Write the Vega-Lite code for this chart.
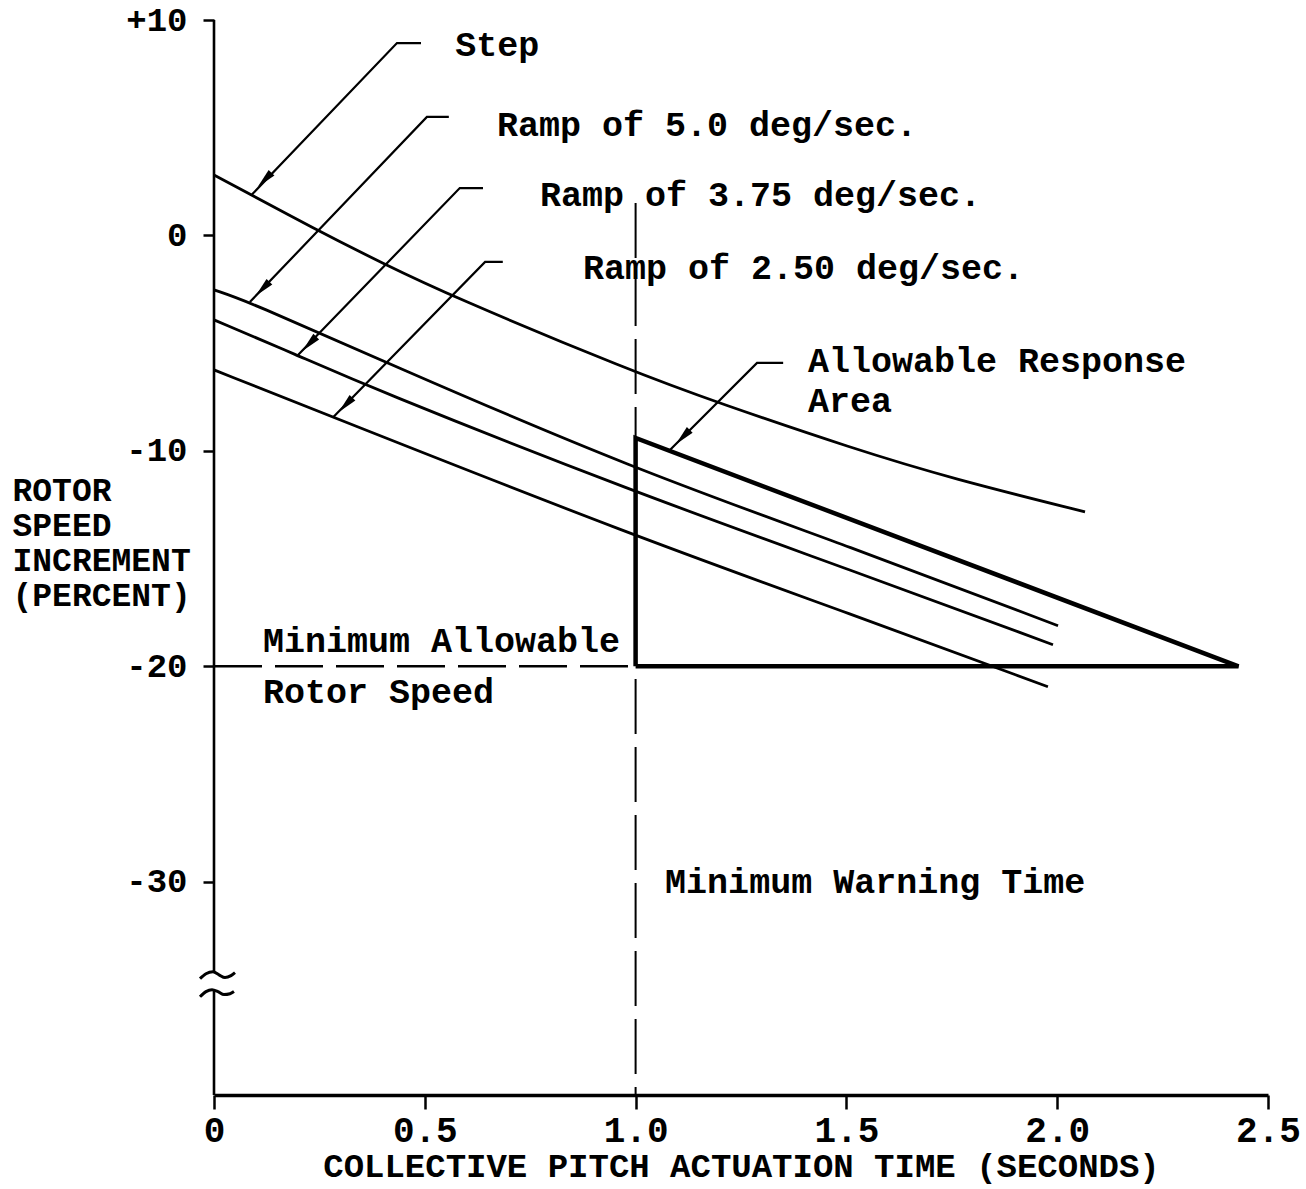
{
  "$schema": "https://vega.github.io/schema/vega-lite/v6.json",
  "width": 1054,
  "height": 1075,
  "autosize": {"type": "none"},
  "padding": {"left": 214, "top": 20, "right": 38, "bottom": 94},
  "background": "white",
  "config": {
    "view": {"stroke": null},
    "font": "Liberation Mono",
    "text": {"font": "Liberation Mono", "fontWeight": "bold", "color": "black"}
  },
  "datasets": {
    "curves": [
      {"series": "Step", "t": 0, "v": 2.81},
      {"series": "Step", "t": 0.247, "v": 0.21},
      {"series": "Step", "t": 0.401, "v": -1.3},
      {"series": "Step", "t": 0.555, "v": -2.75},
      {"series": "Step", "t": 0.994, "v": -6.33},
      {"series": "Step", "t": 1.193, "v": -7.75},
      {"series": "Step", "t": 1.516, "v": -9.9},
      {"series": "Step", "t": 1.753, "v": -11.3},
      {"series": "Step", "t": 2.066, "v": -12.83},
      {"series": "Ramp 5.0", "t": 0, "v": -2.53},
      {"series": "Ramp 5.0", "t": 0.085, "v": -3.09},
      {"series": "Ramp 5.0", "t": 0.41, "v": -5.92},
      {"series": "Ramp 5.0", "t": 0.994, "v": -10.84},
      {"series": "Ramp 5.0", "t": 1.516, "v": -14.5},
      {"series": "Ramp 5.0", "t": 2.002, "v": -18.12},
      {"series": "Ramp 3.75", "t": 0, "v": -3.92},
      {"series": "Ramp 3.75", "t": 0.197, "v": -5.55},
      {"series": "Ramp 3.75", "t": 0.363, "v": -7.0},
      {"series": "Ramp 3.75", "t": 0.994, "v": -11.9},
      {"series": "Ramp 3.75", "t": 1.516, "v": -15.57},
      {"series": "Ramp 3.75", "t": 1.99, "v": -19.0},
      {"series": "Ramp 2.50", "t": 0, "v": -6.24},
      {"series": "Ramp 2.50", "t": 0.28, "v": -8.42},
      {"series": "Ramp 2.50", "t": 0.994, "v": -13.94},
      {"series": "Ramp 2.50", "t": 1.516, "v": -17.61},
      {"series": "Ramp 2.50", "t": 1.978, "v": -20.95}
    ],
    "triangle": [
      {"o": 1, "t": 1.0, "v": -20},
      {"o": 2, "t": 1.0, "v": -9.4},
      {"o": 3, "t": 2.43, "v": -20},
      {"o": 4, "t": 1.0, "v": -20}
    ],
    "leaders": [
      {"id": "Step", "o": 1, "t": 0.09, "v": 1.9},
      {"id": "Step", "o": 2, "t": 0.434, "v": 8.93},
      {"id": "Step", "o": 3, "t": 0.491, "v": 8.93},
      {"id": "R5", "o": 1, "t": 0.085, "v": -3.09},
      {"id": "R5", "o": 2, "t": 0.505, "v": 5.5},
      {"id": "R5", "o": 3, "t": 0.557, "v": 5.5},
      {"id": "R375", "o": 1, "t": 0.197, "v": -5.6},
      {"id": "R375", "o": 2, "t": 0.583, "v": 2.2},
      {"id": "R375", "o": 3, "t": 0.638, "v": 2.2},
      {"id": "R250", "o": 1, "t": 0.282, "v": -8.45},
      {"id": "R250", "o": 2, "t": 0.643, "v": -1.23},
      {"id": "R250", "o": 3, "t": 0.685, "v": -1.23},
      {"id": "Area", "o": 1, "t": 1.082, "v": -9.95},
      {"id": "Area", "o": 2, "t": 1.288, "v": -5.92},
      {"id": "Area", "o": 3, "t": 1.35, "v": -5.92}
    ],
    "arrows": [
      {"t": 0.12, "v": 2.58},
      {"t": 0.115, "v": -2.48},
      {"t": 0.226, "v": -5.03},
      {"t": 0.312, "v": -7.87},
      {"t": 1.112, "v": -9.36}
    ],
    "breaks": [
      {"id": "up", "o": 1, "t": -0.0332, "v": -34.5},
      {"id": "up", "o": 2, "t": -0.019, "v": -34.27},
      {"id": "up", "o": 3, "t": -0.0024, "v": -34.18},
      {"id": "up", "o": 4, "t": 0.0119, "v": -34.32},
      {"id": "up", "o": 5, "t": 0.0261, "v": -34.45},
      {"id": "up", "o": 6, "t": 0.0403, "v": -34.36},
      {"id": "up", "o": 7, "t": 0.0498, "v": -34.22},
      {"id": "lo", "o": 1, "t": -0.0332, "v": -35.34},
      {"id": "lo", "o": 2, "t": -0.019, "v": -35.1},
      {"id": "lo", "o": 3, "t": -0.0047, "v": -35.01},
      {"id": "lo", "o": 4, "t": 0.0095, "v": -35.1},
      {"id": "lo", "o": 5, "t": 0.0237, "v": -35.24},
      {"id": "lo", "o": 6, "t": 0.038, "v": -35.2},
      {"id": "lo", "o": 7, "t": 0.0474, "v": -35.1}
    ],
    "labels": [
      {"t": 0.572, "v": 8.84, "text": "Step"},
      {"t": 0.671, "v": 5.13, "text": "Ramp of 5.0 deg/sec."},
      {"t": 0.773, "v": 1.88, "text": "Ramp of 3.75 deg/sec."},
      {"t": 0.875, "v": -1.51, "text": "Ramp of 2.50 deg/sec."},
      {"t": 1.409, "v": -5.82, "text": "Allowable Response"},
      {"t": 1.409, "v": -7.68, "text": "Area"},
      {"t": 0.116, "v": -18.82, "text": "Minimum Allowable"},
      {"t": 0.116, "v": -21.18, "text": "Rotor Speed"},
      {"t": 1.07, "v": -30.0, "text": "Minimum Warning Time"}
    ]
  },
  "encoding": {
    "x": {
      "field": "t",
      "type": "quantitative",
      "scale": {"domain": [0, 2.5], "nice": false, "zero": false},
      "axis": {
        "title": "COLLECTIVE PITCH ACTUATION TIME (SECONDS)",
        "values": [0, 0.5, 1, 1.5, 2, 2.5],
        "labelExpr": "datum.value == 0 ? '0' : format(datum.value, '.1f')",
        "grid": false,
        "domainColor": "black",
        "domainWidth": 3.5,
        "tickColor": "black",
        "tickWidth": 2.5,
        "tickSize": 14,
        "labelFont": "Liberation Mono",
        "labelFontWeight": "bold",
        "labelFontSize": 36,
        "labelColor": "black",
        "labelPadding": 4,
        "labelFlush": false,
        "labelOverlap": false,
        "titleFont": "Liberation Mono",
        "titleFontWeight": "bold",
        "titleFontSize": 34,
        "titleColor": "black",
        "titlePadding": 1
      }
    },
    "y": {
      "field": "v",
      "type": "quantitative",
      "scale": {"domain": [-39.9, 10], "nice": false, "zero": false},
      "axis": {
        "title": ["ROTOR", "SPEED", "INCREMENT", "(PERCENT)"],
        "values": [10, 0, -10, -20, -30],
        "labelExpr": "datum.value > 0 ? '+' + datum.value : '' + datum.value",
        "domain": false,
        "grid": false,
        "tickColor": "black",
        "tickWidth": 2.5,
        "tickSize": 11,
        "labelFont": "Liberation Mono",
        "labelFontWeight": "bold",
        "labelFontSize": 34,
        "labelColor": "black",
        "labelPadding": 16,
        "titleFont": "Liberation Mono",
        "titleFontWeight": "bold",
        "titleFontSize": 33,
        "titleColor": "black",
        "titleAngle": 0,
        "titleAlign": "left",
        "titleBaseline": "top",
        "titleX": -202,
        "titleY": 454,
        "titleLineHeight": 35
      }
    }
  },
  "layer": [
    {
      "data": {"values": [{"t": 0, "v": 10, "v2": -34.18}, {"t": 0, "v": -35.01, "v2": -39.9}]},
      "mark": {"type": "rule", "color": "black", "strokeWidth": 2.6},
      "encoding": {"y2": {"field": "v2"}}
    },
    {
      "data": {"name": "breaks"},
      "mark": {"type": "line", "color": "black", "strokeWidth": 3, "interpolate": "monotone"},
      "encoding": {"detail": {"field": "id"}, "order": {"field": "o"}}
    },
    {
      "data": {"values": [{"t": 0, "t2": 1.0, "v": -20}]},
      "mark": {"type": "rule", "color": "black", "strokeWidth": 2.5, "strokeDash": [48, 13]},
      "encoding": {"x2": {"field": "t2"}}
    },
    {
      "data": {"values": [{"t": 1.0, "v": 1.5, "v2": -39.9}]},
      "mark": {"type": "rule", "color": "black", "strokeWidth": 2, "strokeDash": [55, 13]},
      "encoding": {"y2": {"field": "v2"}}
    },
    {
      "data": {"name": "curves"},
      "mark": {"type": "line", "color": "black", "strokeWidth": 2.8, "interpolate": "basis"},
      "encoding": {"detail": {"field": "series"}}
    },
    {
      "data": {"name": "triangle"},
      "mark": {"type": "line", "color": "black", "strokeWidth": 4.5, "strokeJoin": "miter"},
      "encoding": {"order": {"field": "o"}}
    },
    {
      "data": {"name": "leaders"},
      "mark": {"type": "line", "color": "black", "strokeWidth": 2.2},
      "encoding": {"detail": {"field": "id"}, "order": {"field": "o"}}
    },
    {
      "data": {"name": "arrows"},
      "mark": {"type": "point", "shape": "M0,-1L0.4,1L-0.4,1Z", "filled": true, "color": "black", "opacity": 1, "size": 400, "angle": 224},
      "encoding": {}
    },
    {
      "data": {"name": "labels"},
      "mark": {"type": "text", "align": "left", "baseline": "middle", "fontSize": 35, "font": "Liberation Mono", "fontWeight": "bold", "color": "black"},
      "encoding": {"text": {"field": "text"}}
    }
  ]
}
